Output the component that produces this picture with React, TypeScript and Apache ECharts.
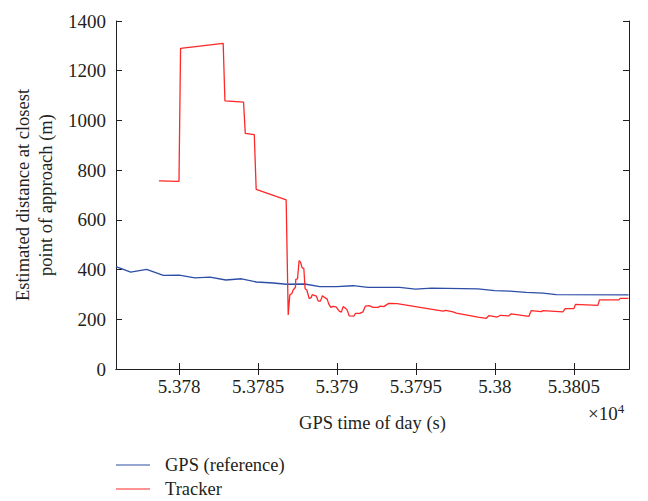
import React, { useEffect, useRef } from "react";
import * as echarts from "echarts";

// GPS time of day (s)
const gpsTime = [
  53776.0, 53776.93, 53777.94, 53779.0, 53780.0, 53781.0, 53781.95, 53782.96,
  53783.95, 53784.9, 53785.96, 53786.8, 53787.96, 53788.91, 53789.97, 53791.02,
  53791.97, 53793.97, 53794.97, 53795.98, 53798.93, 53799.99, 53800.94, 53801.99,
  53803.05, 53803.89, 53808.47,
];
const gpsDist = [
  412, 390, 401, 377, 378, 367, 370, 358,
  363, 350, 346, 341, 342, 331, 331, 335,
  328, 328, 321, 325, 322, 315, 313, 308,
  305, 299, 298,
];

const trackerTime = [
  53778.72, 53779.99, 53780.09, 53782.79, 53782.9, 53784.08, 53784.19, 53784.76,
  53784.88, 53786.78, 53786.91, 53787.01, 53787.14, 53787.22, 53787.37, 53787.39,
  53787.5, 53787.6, 53787.69, 53787.79, 53787.9, 53787.98, 53788.09, 53788.24,
  53788.36, 53788.43, 53788.7, 53788.81, 53788.95, 53789.08, 53789.23, 53789.38,
  53789.48, 53789.61, 53789.76, 53789.94, 53790.14, 53790.28, 53790.39, 53790.54,
  53790.64, 53790.77, 53791.08, 53791.17, 53791.44, 53791.65, 53791.8, 53792.03,
  53792.29, 53792.6, 53792.75, 53792.96, 53793.28, 53793.81, 53796.72, 53796.89,
  53797.35, 53797.56, 53798.93, 53799.46, 53799.63, 53800.16, 53800.35, 53800.89,
  53801.04, 53802.16, 53802.31, 53802.94, 53803.05, 53804.31, 53804.46, 53805.01,
  53805.11, 53806.53, 53806.63, 53807.86, 53807.94, 53808.47,
];
const trackerDist = [
  757, 755, 1290, 1310, 1079, 1074, 948, 943,
  723, 680, 217, 298, 304, 318, 329, 361,
  363, 436, 430, 408, 404, 323, 318, 283,
  287, 299, 293, 273, 273, 295, 287, 281,
  261, 248, 252, 250, 233, 229, 251, 244,
  238, 214, 213, 224, 224, 230, 253, 255,
  248, 248, 253, 251, 264, 263, 233, 236,
  230, 225, 209, 204, 215, 209, 216, 214,
  222, 212, 235, 231, 235, 230, 243, 243,
  260, 256, 278, 278, 284, 284,
];

const xTicks = [53780, 53785, 53790, 53795, 53800, 53805];
const yTicks = [0, 200, 400, 600, 800, 1000, 1200, 1400];

const FONT = "Liberation Serif";
const TEXT = "#231f20";
const AXIS = "#231f20";

export default function App() {
  const ref = useRef<HTMLDivElement>(null);

  useEffect(() => {
    if (!ref.current) return;
    const chart = echarts.init(ref.current, null, { renderer: "svg" });
    const gpsData = gpsTime.map((t, i) => [t, gpsDist[i]]);
    const trkData = trackerTime.map((t, i) => [t, trackerDist[i]]);
    const xMin = 53776;
    const xMax = 53808.5;
    const axisLine = { show: true, lineStyle: { color: AXIS, width: 1 } };
    const tick = { show: true, inside: true, length: 6, lineStyle: { color: AXIS, width: 1 } };

    chart.setOption({
      animation: false,
      grid: { left: 116, right: 19, top: 21, bottom: 132 },
      xAxis: [
        {
          type: "value",
          min: xMin,
          max: xMax,
          position: "bottom",
          axisLine,
          axisTick: { ...tick, customValues: xTicks },
          splitLine: { show: false },
          axisLabel: {
            customValues: xTicks,
            formatter: (v: number) => String(+(v / 10000).toFixed(4)),
            fontFamily: FONT,
            fontSize: 19,
            color: TEXT,
            margin: 8,
          },
          name: "GPS time of day (s)",
          nameLocation: "middle",
          nameGap: 44,
          nameTextStyle: { fontFamily: FONT, fontSize: 18.5, color: TEXT },
        },
        {
          type: "value",
          min: xMin,
          max: xMax,
          position: "top",
          axisLine,
          axisTick: { ...tick, customValues: xTicks },
          splitLine: { show: false },
          axisLabel: { show: false },
        },
      ],
      yAxis: [
        {
          type: "value",
          min: yTicks[0],
          max: yTicks[yTicks.length - 1],
          interval: 200,
          position: "left",
          axisLine,
          axisTick: tick,
          splitLine: { show: false },
          axisLabel: {
            formatter: (v: number) => String(v),
            fontFamily: FONT,
            fontSize: 19,
            color: TEXT,
            margin: 10,
          },
          name: "Estimated distance at closest\npoint of approach (m)",
          nameLocation: "middle",
          nameGap: 57,
          nameRotate: 90,
          nameTextStyle: { fontFamily: FONT, fontSize: 18.5, color: TEXT, lineHeight: 23 },
        },
        {
          type: "value",
          min: yTicks[0],
          max: yTicks[yTicks.length - 1],
          interval: 200,
          position: "right",
          axisLine,
          axisTick: tick,
          splitLine: { show: false },
          axisLabel: { show: false },
        },
      ],
      legend: {
        orient: "vertical",
        left: 116,
        top: 455,
        padding: 0,
        itemWidth: 34,
        itemHeight: 10,
        itemGap: 4,
        icon: "path://M0,4.5 L34,4.5 L34,5.5 L0,5.5 Z",
        textStyle: {
          fontFamily: FONT,
          fontSize: 18.5,
          color: TEXT,
          lineHeight: 20,
          padding: [0, 0, 0, 10],
        },
        data: ["GPS (reference)", "Tracker"],
      },
      graphic: [
        {
          type: "text",
          left: 588,
          top: 402,
          style: {
            text: "×10{s|4}",
            font: `19px "${FONT}"`,
            fill: TEXT,
            rich: {
              s: { fontSize: 13, fontFamily: FONT, fill: TEXT, verticalAlign: "top", padding: [0, 0, 9, 0] },
            },
          },
        },
      ],
      series: [
        {
          name: "GPS (reference)",
          type: "line",
          data: gpsData,
          showSymbol: false,
          symbol: "none",
          lineStyle: { color: "#2c4ea6", width: 1.3 },
          itemStyle: { color: "#2c4ea6" },
        },
        {
          name: "Tracker",
          type: "line",
          data: trkData,
          showSymbol: false,
          symbol: "none",
          lineStyle: { color: "#ff2727", width: 1.3 },
          itemStyle: { color: "#ff2727" },
        },
      ],
    });
    return () => chart.dispose();
  }, []);

  return (
    <div
      ref={ref}
      style={{ position: "fixed", left: 0, top: 0, width: 648, height: 501, background: "#fff" }}
    />
  );
}
